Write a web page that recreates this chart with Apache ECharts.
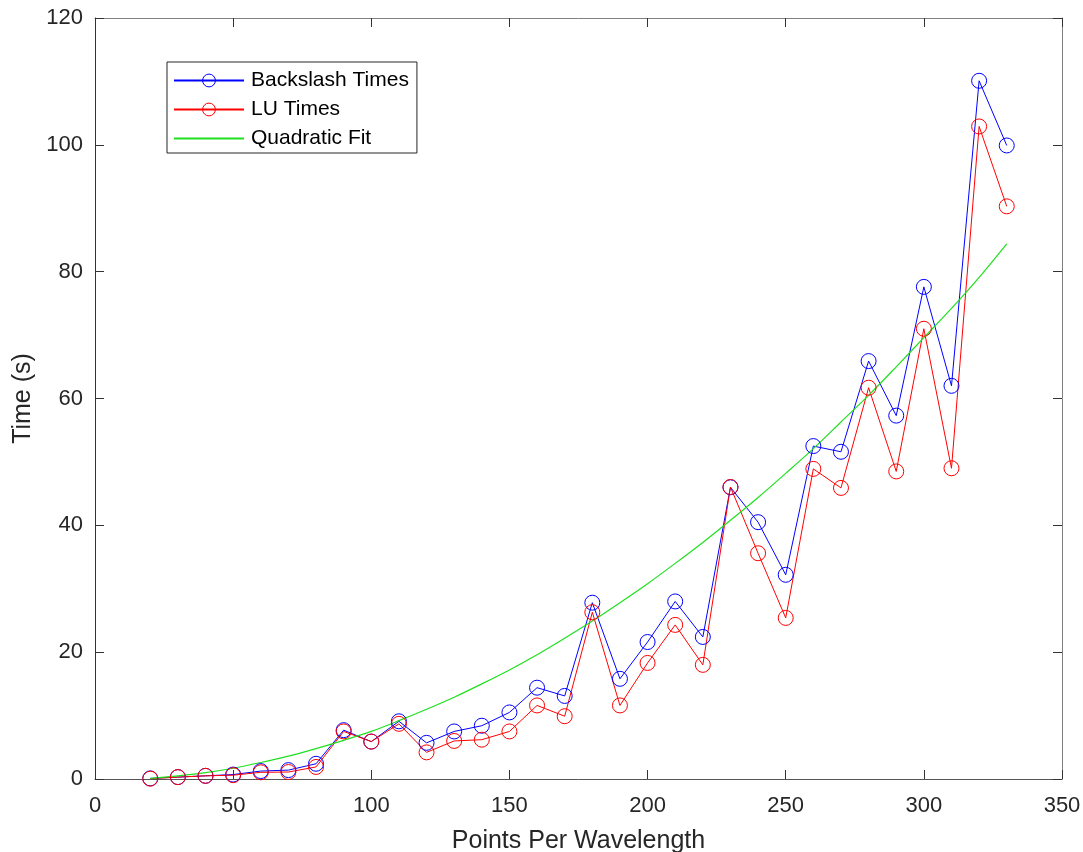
<!DOCTYPE html>
<html>
<head>
<meta charset="utf-8">
<script src="https://cdn.jsdelivr.net/npm/echarts@6/dist/echarts.min.js"></script>
<style>
  html, body { margin: 0; padding: 0; background: #fff; }
  #chart { width: 1083px; height: 852px; }
</style>
</head>
<body>
<div id="chart"></div>
<script>
// points per wavelength (x)
const ppw = [20, 30, 40, 50, 60, 70, 80, 90, 100, 110, 120, 130, 140, 150, 160, 170,
             180, 190, 200, 210, 220, 230, 240, 250, 260, 270, 280, 290, 300, 310, 320, 330];

// solve times in seconds
const backslashTimes = [0.1, 0.3, 0.5, 0.7, 1.25, 1.4, 2.4, 7.7, 5.9, 9.1, 5.7, 7.5, 8.4, 10.5, 14.4, 13.1,
                        27.8, 15.8, 21.6, 28.0, 22.4, 46.0, 40.5, 32.2, 52.5, 51.6, 65.9, 57.3, 77.6, 62.0, 110.1, 99.9];
const luTimes = [0.05, 0.3, 0.5, 0.6, 1.05, 1.1, 1.9, 7.5, 5.9, 8.7, 4.2, 6.0, 6.2, 7.5, 11.6, 9.9,
                 26.3, 11.6, 18.3, 24.3, 18.0, 46.05, 35.6, 25.4, 48.9, 45.9, 61.7, 48.5, 71.0, 49.0, 102.9, 90.3];
const quadraticFit = [0.1, 0.5, 1.0, 1.7, 2.6, 3.6, 4.8, 6.1, 7.5, 9.2, 11.0, 12.9, 15.0, 17.2, 19.6, 22.2,
                      24.9, 27.8, 30.8, 34.0, 37.3, 40.8, 44.4, 48.2, 52.1, 56.3, 60.5, 65.0, 69.6, 74.2, 79.1, 84.4];

const xTicks = { min: 0, max: 350, interval: 50 };
const yTicks = { min: 0, max: 120, interval: 20 };

const textColor = '#262626';
const fontFamily = '"Liberation Sans", Arial, Helvetica, sans-serif';

const chart = echarts.init(document.getElementById('chart'), null, { renderer: 'canvas' });

const pairs = (ys) => ppw.map((x, i) => [x, ys[i]]);

function axisCommon(extra) {
    return Object.assign({
        type: 'value',
        splitLine: { show: false },
        axisLine: { show: true, onZero: false, lineStyle: { color: '#555', width: 1 } },
        axisTick: { show: true, inside: true, length: 9, lineStyle: { color: '#333', width: 1 } },
        axisLabel: { color: textColor, fontSize: 22, fontFamily: fontFamily },
        nameTextStyle: { color: textColor, fontSize: 25, fontFamily: fontFamily }
    }, extra);
}

const option = {
    animation: false,
    backgroundColor: '#fff',
    grid: { left: 95, right: 21, top: 18, bottom: 73, containLabel: false, outerBoundsMode: 'none' },
    legend: {
        orient: 'vertical',
        left: 167,
        top: 62,
        backgroundColor: '#fff',
        borderColor: '#262626',
        borderWidth: 1,
        borderRadius: 0,
        padding: [8, 8, 4, 6],
        itemWidth: 70,
        itemHeight: 16,
        itemGap: 8,
        textStyle: { color: '#000', fontSize: 21, fontFamily: fontFamily, lineHeight: 21, padding: [0, 0, 0, 2] },
        data: [
            { name: 'Backslash Times', itemStyle: { color: 'transparent', borderColor: '#0000ff', borderWidth: 1 } },
            { name: 'LU Times', itemStyle: { color: 'transparent', borderColor: '#ff0000', borderWidth: 1 } },
            { name: 'Quadratic Fit', itemStyle: { color: 'transparent', borderColor: 'transparent', borderWidth: 0 } }
        ]
    },
    xAxis: [
        axisCommon(Object.assign({
            position: 'bottom',
            name: 'Points Per Wavelength',
            nameLocation: 'middle',
            nameGap: 50,
            axisLabel: { color: textColor, fontSize: 22, fontFamily: fontFamily, margin: 16 }
        }, xTicks)),
        axisCommon(Object.assign({
            position: 'top',
            axisLabel: { show: false },
            axisLine: { show: true, onZero: false, lineStyle: { color: '#808080', width: 1 } }
        }, xTicks))
    ],
    yAxis: [
        axisCommon(Object.assign({
            position: 'left',
            name: 'Time (s)',
            nameLocation: 'middle',
            nameGap: 58,
            axisLine: { show: true, onZero: false, lineStyle: { color: '#333', width: 1 } },
            axisLabel: { color: textColor, fontSize: 22, fontFamily: fontFamily, margin: 12 }
        }, yTicks)),
        axisCommon(Object.assign({
            position: 'right',
            axisLabel: { show: false },
            axisLine: { show: true, onZero: false, lineStyle: { color: '#808080', width: 1 } }
        }, yTicks))
    ],
    series: [
        {
            name: 'Backslash Times',
            type: 'line',
            data: pairs(backslashTimes),
            symbol: 'circle',
            symbolSize: 15,
            color: '#0000ff',
            lineStyle: { color: '#0000ff', width: 1 },
            itemStyle: { color: 'transparent', borderColor: '#0000ff', borderWidth: 1 }
        },
        {
            name: 'LU Times',
            type: 'line',
            data: pairs(luTimes),
            symbol: 'circle',
            symbolSize: 15,
            color: '#ff0000',
            lineStyle: { color: '#ff0000', width: 1 },
            itemStyle: { color: 'transparent', borderColor: '#ff0000', borderWidth: 1 }
        },
        {
            name: 'Quadratic Fit',
            type: 'line',
            data: pairs(quadraticFit),
            symbol: 'none',
            smooth: 0.3,
            color: '#1fe01f',
            lineStyle: { color: '#1fe01f', width: 1.2 }
        }
    ]
};

chart.setOption(option);
window.addEventListener('resize', () => chart.resize());
</script>
</body>
</html>
